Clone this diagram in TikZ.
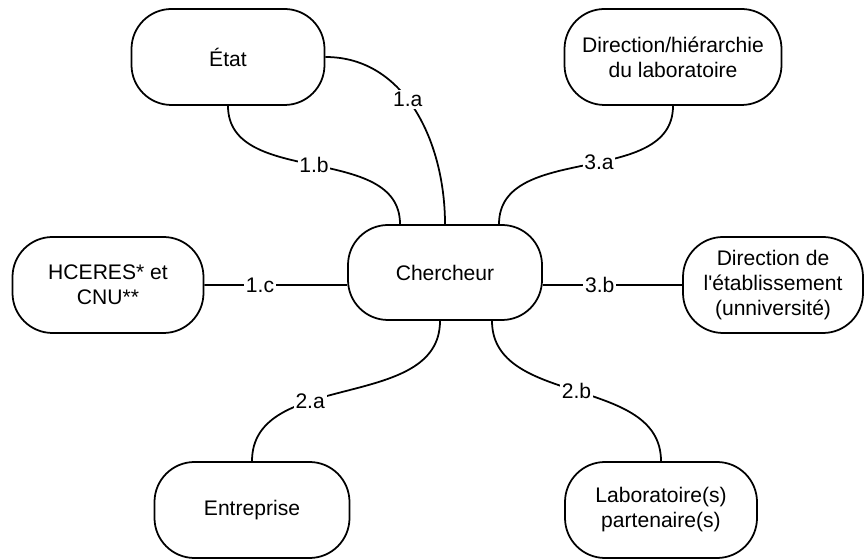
\documentclass[tikz,border=0pt]{standalone}
\usepackage{fontspec}
\setmainfont{Liberation Sans}
\begin{document}
\begin{tikzpicture}[line width=1pt,
    every node/.style={font=\fontsize{12}{14.2}\selectfont, align=center},
    box/.style={rectangle, draw, rounded corners=0.8cm, minimum height=1.92cm},
    lbl/.style={fill=white, inner sep=1pt}]
    \useasboundingbox (0,0) rectangle (17.3,11.18);

    % Acteurs
    \node[box, minimum width=3.88cm, minimum height=1.9cm] (cherch) at (8.9,5.73) {Chercheur};
    \node[box, minimum width=3.86cm] (etat) at (4.56,10.04) {État};
    \node[box, minimum width=4.34cm] (dirlabo) at (13.46,10.04) {Direction/hiérarchie\\du laboratoire};
    \node[box, minimum width=3.82cm] (hceres) at (2.16,5.48) {HCERES* et\\CNU**};
    \node[box, minimum width=3.6cm] (diretab) at (15.46,5.48) {Direction de\\l\textquotesingle établissement\\(unniversité)};
    \node[box, minimum width=3.9cm] (entr) at (5.04,0.98) {Entreprise};
    \node[box, minimum width=3.84cm] (labo) at (13.22,0.98) {Laboratoire(s)\\partenaire(s)};

    % Relations
    \draw (etat.east) to[out=0, in=90] node[lbl, pos=0.44] {1.a} (cherch.north);
    \draw (etat.south) to[out=-90, in=90] node[lbl, midway] {1.b} ([xshift=-0.9cm]cherch.north);
    \draw (hceres.east) to[out=0, in=180] node[lbl, pos=0.38] {1.c} ([yshift=-0.25cm]cherch.west);
    \draw ([xshift=-0.1cm]cherch.south) to[out=-90, in=90] node[lbl, pos=0.63] {2.a} (entr.north);
    \draw ([xshift=0.94cm]cherch.south) to[out=-90, in=90] node[lbl, midway] {2.b} (labo.north);
    \draw (dirlabo.south) to[out=-90, in=90] node[lbl, pos=0.45] {3.a} ([xshift=1.08cm]cherch.north);
    \draw ([yshift=-0.25cm]cherch.east) to[out=0, in=180] node[lbl, pos=0.4] {3.b} (diretab.west);
\end{tikzpicture}
\end{document}
